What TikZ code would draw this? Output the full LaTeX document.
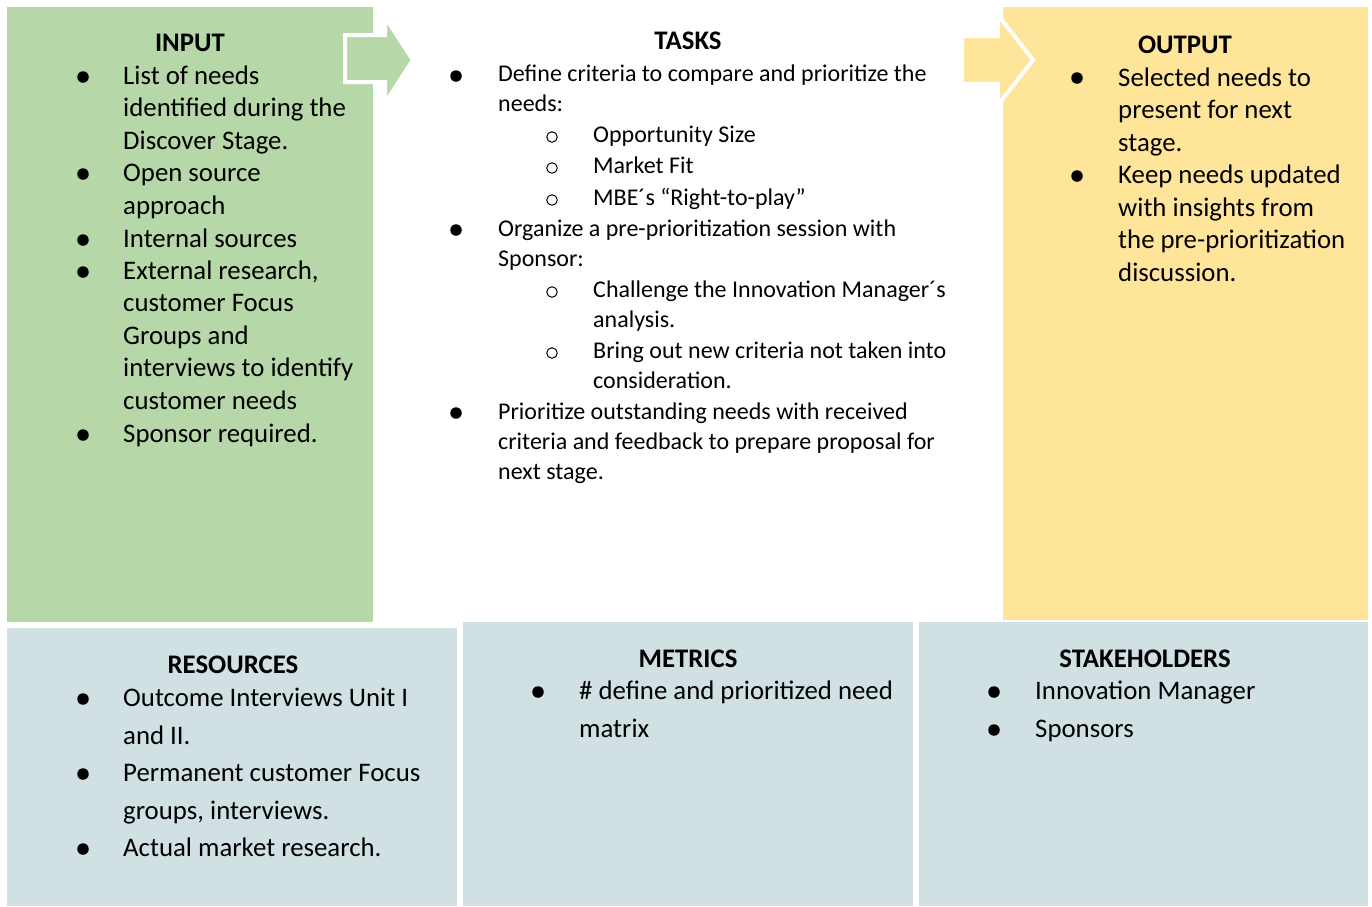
\documentclass[tikz,border=0pt]{standalone}
\usepackage{fontspec}
\setmainfont{Carlito}
\definecolor{inputgreen}{HTML}{B6D7A8}
\definecolor{outputyellow}{HTML}{FFE599}
\definecolor{infoblue}{HTML}{D0E0E3}
\tikzset{
  panel/.style={rectangle, inner sep=0pt, anchor=north west},
  head/.style={inner sep=0pt, font=\fontsize{26.8}{30}\selectfont\bfseries},
  item/.style={anchor=base west, align=left, inner sep=0pt, font=\fontsize{26.8}{32.5}\selectfont},
  taskitem/.style={item, font=\fontsize{24}{30}\selectfont},
  resitem/.style={item, font=\fontsize{26.8}{37.5}\selectfont},
  dot/.style={circle, fill=black, inner sep=0pt, minimum size=11.5pt},
  ring/.style={circle, draw=black, line width=1pt, inner sep=0pt, minimum size=10.5pt},
  blockarrow/.style={draw=white, line width=4pt, line join=miter},
}
\begin{document}
\begin{tikzpicture}[x=1pt,y=-1pt]
\useasboundingbox[fill=white] (0,0) rectangle (1372,906);
% panels
\node[panel, fill=inputgreen, minimum width=366pt, minimum height=615pt] (input) at (7,7) {};
\node[panel, fill=outputyellow, minimum width=365pt, minimum height=613pt] (output) at (1003,7) {};
\node[panel, fill=infoblue, minimum width=450pt, minimum height=278pt] (resources) at (7,628) {};
\node[panel, fill=infoblue, minimum width=450pt, minimum height=284pt] (metrics) at (463,622) {};
\node[panel, fill=infoblue, minimum width=449pt, minimum height=284pt] (stakeholders) at (919,622) {};
% block arrows
\filldraw[blockarrow, fill=inputgreen] (345,35) -- (385,35) -- (385,17) -- (413,60) -- (385,103) -- (385,82) -- (345,82) -- cycle;
\filldraw[blockarrow, fill=outputyellow] (962,36) -- (998,36) -- (998,15) -- (1033,60) -- (998,105) -- (998,84) -- (962,84) -- cycle;
% headings
\node[head] (inputhead) at (190,43) {INPUT};
\node[head] (taskshead) at (688,41) {TASKS};
\node[head] (outputhead) at (1185,45) {OUTPUT};
\node[head] (reshead) at (233,665) {RESOURCES};
\node[head] (metricshead) at (688,659) {METRICS};
\node[head] (stakehead) at (1145,659) {STAKEHOLDERS};
% input
\node[dot] (in1b) at (83,77) {};
\node[item] (in1) at (123,149) {List of needs\\identified during the\\Discover Stage.};
\node[dot] (in2b) at (83,174) {};
\node[item] (in2) at (123,214) {Open source\\approach};
\node[dot] (in3b) at (83,240) {};
\node[item] (in3) at (123,247) {Internal sources};
\node[dot] (in4b) at (83,272) {};
\node[item] (in4) at (123,409) {External research,\\customer Focus\\Groups and\\interviews to identify\\customer needs};
\node[dot] (in5b) at (83,435) {};
\node[item] (in5) at (123,442) {Sponsor required.};
% tasks
\node[dot] (t1b) at (456,76) {};
\node[taskitem] (t1) at (498,111) {Define criteria to compare and prioritize the\\needs:};
\node[ring] (t1ab) at (552,137) {};
\node[taskitem] (t1a) at (593,142) {Opportunity Size};
\node[ring] (t1bb) at (552,168) {};
\node[taskitem] (t1b) at (593,173) {Market Fit};
\node[ring] (t1cb) at (552,200) {};
\node[taskitem] (t1c) at (593,205) {MBE´s “Right-to-play”};
\node[dot] (t2b) at (456,230) {};
\node[taskitem] (t2) at (498,266) {Organize a pre-prioritization session with\\Sponsor:};
\node[ring] (t2ab) at (552,292) {};
\node[taskitem] (t2a) at (593,327) {Challenge the Innovation Manager´s\\analysis.};
\node[ring] (t2bb) at (552,353) {};
\node[taskitem] (t2b) at (593,388) {Bring out new criteria not taken into\\consideration.};
\node[dot] (t3b) at (456,413) {};
\node[taskitem] (t3) at (498,479) {Prioritize outstanding needs with received\\criteria and feedback to prepare proposal for\\next stage.};
% output
\node[dot] (o1b) at (1077,78) {};
\node[item] (o1) at (1118,151) {Selected needs to\\present for next\\stage.};
\node[dot] (o2b) at (1077,176) {};
\node[item] (o2) at (1118,281) {Keep needs updated\\with insights from\\the pre-prioritization\\discussion.};
% resources
\node[dot] (r1b) at (83,699) {};
\node[resitem] (r1) at (123,744) {Outcome Interviews Unit I\\and II.};
\node[dot] (r2b) at (83,774) {};
\node[resitem] (r2) at (123,819) {Permanent customer Focus\\groups, interviews.};
\node[dot] (r3b) at (83,849) {};
\node[resitem] (r3) at (123,856) {Actual market research.};
% metrics
\node[dot] (m1b) at (538,692) {};
\node[resitem, font=\fontsize{26.8}{38}\selectfont] (m1) at (579,737) {\# define and prioritized need\\matrix};
% stakeholders
\node[dot] (s1b) at (994,692) {};
\node[item] (s1) at (1035,699) {Innovation Manager};
\node[dot] (s2b) at (994,730) {};
\node[item] (s2) at (1035,737) {Sponsors};
\end{tikzpicture}
\end{document}
